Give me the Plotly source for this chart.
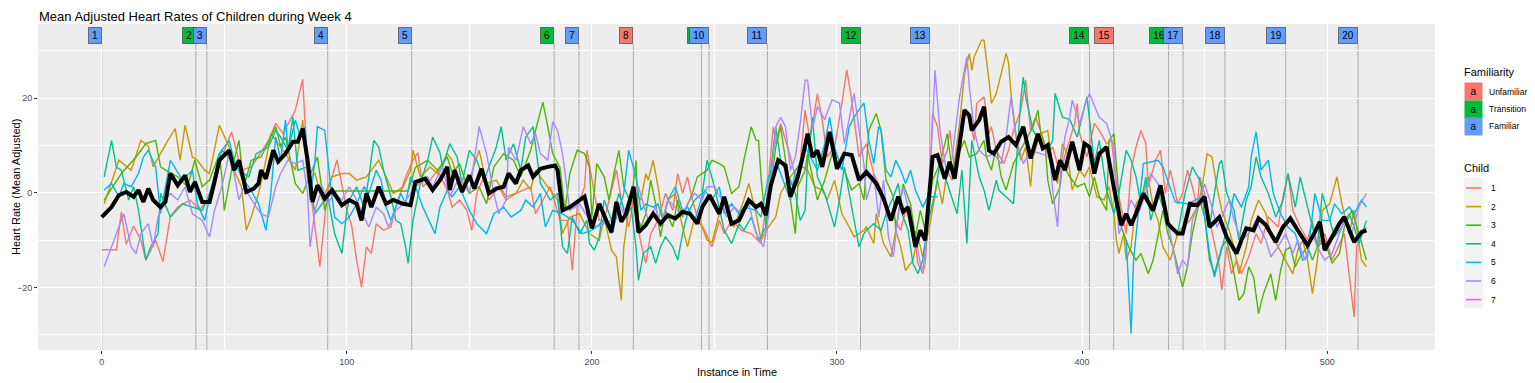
import plotly.graph_objects as go

# ---------------- data ----------------
c1_t = [0,3,6,8,10,13,16,18,22,25,28,31,36,40,44,49,53,57,61,68,71,74,79,82,84,86,89,92,96,100,
        102,104,106,108,110,112,115,118,120,124,127,129,131,134,137,141,143,146,149,151,153,156,158,162,165,169,175,177,180,183,187,190,192,194,197,198,201,203,
        205,207,210,212,215,217,220,222,224,227,230,233,235,237,239,241,243,246,249,252,254,257,261,265,269,271,273,274,275,277,279,281,284,287,289,292,294,296,299,302,304,306,
        309,312,315,318,320,323,326,328,331,333,335,336,337,339,341,343,345,346,348,350,352,354,356,357,360,362,363,365,368,370,372,375,377,379,381,383,386,388,391,394,397,398,399,402,405,407,410,412,
        414,416,418,420,422,424,426,427,430,432,434,436,439,441,443,445,447,448,450,452,454,456,457,459,461,463,465,468,471,473,476,480,482,484,486,489,492,494,496,499,502,505,507,511,512,514,516]
c1_v = [-12,-12,-12,-4,-10.9,-7,-10,-14.2,-10,-14.5,-5,-3,-1.5,-3.5,-1,7.6,12.9,4.8,5.5,11,14.7,12.5,17.5,24,4.8,-3,-15.6,-0.1,7,-3.7,
        -7,-14.2,-19.9,-11.4,-12.8,-6.5,-7.9,-7.2,-3,3.4,6.9,8.5,1.3,2.7,4.8,0.6,-3,-1.5,-3.7,-7.9,-0.1,3.4,-1.5,1.3,-1.5,-0.1,1.3,-4.4,-1.5,1.3,-5.8,-5.8,-16.4,-3,1.3,9,-0.1,-5.8,
        -5.8,-1.5,4.8,-1.5,-7.2,-1.5,-10.7,-14.9,-8.6,-5.8,-0.1,-3.7,4.1,-0.1,3.4,-1.5,-5.1,-7.9,-11.4,-5.8,-8.6,-5.8,-7.9,-8.6,-10.7,-3,8.3,14,10.4,14.7,11.1,7.6,1.3,17.5,11.1,21,15.4,7.6,9.7,18.9,26,19.6,
        7.6,10.4,4.1,0.6,-3.7,-5.1,-7.9,-3.7,-6.5,-14.9,-17.1,-14.9,-6.5,16.8,14,6.2,9,13.2,4.8,9,16.8,15.5,11.1,18.9,20.3,12.5,14,9,6.2,9,13.2,17.5,23.8,13.2,16,13.2,8.3,9.7,4.1,9.7,14.7,18.9,12.5,7.6,14.7,13.2,10.4,11.1,
        2,-3.7,-8.6,4.8,9.7,13.2,10.4,1.3,6.9,9,-0.1,4.8,-2.3,-0.1,4.8,1.3,-3,3.4,-0.1,-5.8,-10.7,-15.6,-20.5,-11.4,-17.1,-14.2,-17.1,-13.5,-8.6,-10.7,-5.1,-7.2,-0.8,4.1,-3.7,-7.2,-10,-5.8,-11.4,-8.6,-14.2,-10.7,-8.6,-26.2,-11.4,-8.6,-7.2]

c2_t = [1,7,12,16,19,21,27,30,32,34,37,39,42,44,48,50,52,54,57,59,61,64,67,69,72,75,79,82,84,87,90,94,98,
        101,104,108,113,116,119,123,126,127,130,134,137,141,143,146,150,154,157,161,165,169,172,175,177,180,183,186,188,191,195,199,203,
        205,208,210,212,213,215,218,220,222,223,225,227,229,231,234,237,239,242,245,247,249,252,254,256,258,262,264,267,269,272,275,277,280,283,286,288,291,294,296,299,302,305,307,311,
        312,315,316,319,322,324,326,328,331,333,335,338,341,343,345,347,350,352,354,355,356,359,360,362,363,365,367,369,370,371,373,375,377,379,380,383,386,388,390,392,394,396,399,401,403,406,409,411,413,
        414,415,417,418,420,422,425,427,429,431,433,436,439,441,444,447,449,451,453,455,457,460,462,464,467,469,472,475,477,480,483,486,488,490,492,494,496,498,501,504,506,509,511,514,516]
c2_v = [-2.3,6.9,4.8,11.1,9.9,5.5,11.1,13.6,6.9,14.3,7.6,6.9,4.8,4.1,14.3,11.8,9.7,4.8,1.3,-7.9,-5.1,-0.1,6.9,12.5,10.4,8.3,4.8,15.4,2.7,4.1,-1.5,3.4,4.1,
        4.1,2.7,3.4,6.9,3.4,-0.1,1.3,4.8,9,3.4,5.5,4.1,8.3,6.9,1.3,2.7,9,2,2.7,-0.8,-0.1,2.7,0.6,4.8,2.7,0.6,-1.5,-8.6,-5.1,-4.4,-8.6,-10,
        -5.1,-12.1,-13.5,-22.7,-11.4,-3.7,-0.1,-1.5,4.1,2.7,6.9,1.3,-5.8,-1.5,-0.1,-7.2,-11.4,-5.1,-7.2,-10,-10.4,-4.4,-1.5,-5.8,-7.2,-1.5,2,-4.4,-10,-7.2,-5.1,-0.1,2.7,4.8,5.5,4.8,1.3,0.6,-1.5,2.7,-4.4,-7.2,-9.3,-7.9,
        -7.2,-10.7,-4.4,-10.7,-13.5,-7.9,-11.4,-16.4,-14.2,-9.3,-13.5,-6.5,2.7,-2.3,4.8,2.7,14.7,25,29.5,25.9,28.8,32.3,32.3,23.8,18.9,21,25.2,29.5,27.5,21,12.5,6.9,9.7,1.3,7.6,12.5,13.2,4.8,2,10.4,8.3,0.6,4.8,3.4,5.5,-0.8,-1.5,1.3,-4.4,
        -10,-12.8,-8.6,-14.2,-11.4,-2.3,-0.1,3.4,-3,-5.8,-11.4,-14.2,-8.6,-7.2,-5.8,-3,1.3,8.3,7.6,1.3,-3.7,-7.9,-11.4,-17.1,-11.4,-5.8,-1.5,-4.4,-8.6,-11.4,-14.2,-17.1,-12.1,-10,-14.2,-21.3,-14.2,-3.7,-2.3,3.4,-2.3,-8.6,-3.7,-14.2,-15.6]

c3_t = [1,8,14,18,22,24,26,31,35,38,41,44,48,49,50,53,56,58,61,65,71,73,75,79,82,88,91,93,100,
        110,120,125,128,133,137,141,143,146,150,154,157,160,164,168,171,175,177,180,182,184,187,189,191,194,197,199,200,202,205,207,
        209,211,213,216,218,219,220,222,224,226,228,230,233,235,237,241,243,245,247,249,252,254,257,260,262,265,267,268,269,271,273,275,277,279,281,283,284,287,288,290,292,295,298,301,303,306,309,311,
        313,316,318,320,323,324,327,330,332,334,336,339,342,345,347,349,352,354,357,360,361,363,365,367,369,372,375,377,380,382,383,385,386,388,391,392,395,398,401,403,405,407,410,411,413,
        416,419,422,424,427,429,431,433,435,437,441,443,445,448,450,452,454,457,459,461,464,466,468,470,472,474,477,479,481,483,485,487,489,492,494,496,499,502,505,507,510,513,516]
c3_v = [-1.5,4.1,7.6,10.4,11.1,5.5,4.8,3.4,1.3,6.9,1.3,2.7,8.3,3.4,-3.7,4.8,11.1,1.3,6.9,7.6,14,9.9,11.8,2,-0.1,7.6,-3.7,0.4,0.4,
        0.4,0.4,0.4,5.4,6.9,4.8,7.6,4.1,6.2,-0.1,1.3,-2.3,5.5,8.3,6.9,3.4,9,13.2,19.2,14,8.3,5.4,-3.7,4.1,9,8.3,5.5,-5.1,6.2,3.4,-1.5,
        4.1,9,1.3,-2.3,6.9,-5.8,-7.2,-4.4,2.7,-2.3,-9.3,-3.7,-7.2,-1.5,-5.1,-0.1,3.4,4.1,4.8,6.9,6.2,5.5,-0.1,1.3,6.9,14,11.1,11.1,3.4,-7.2,1.3,9.7,14,6.9,-1.5,-8.6,1.3,4.8,8.3,3.4,-1.5,2.7,8.3,5.5,4.8,0.6,2,-1.5,
        13.2,16.8,13.2,2.7,-0.8,-7.9,1.9,-2.3,-9.3,-3.7,-7.9,2.7,6.2,12.5,4.8,7.6,11.1,7.6,8.3,11.1,7.6,4.8,9.7,3.4,0.6,6.2,9,11.1,14,17.5,13.2,9.7,2.7,-2.3,1.3,6.2,3.4,1.3,2,-0.8,3.4,-0.8,-3.7,11.1,12.5,
        -7.2,-11.4,-14.2,-12.8,-17.1,-14.2,-8.6,-3.7,-8.6,-11.4,-19.9,-15.6,-8.6,-1.5,-5.1,-14.2,-17.1,-11.4,-10,-14.2,-22.7,-21.3,-15.6,-17.8,-25.5,-21.3,-17.1,-22.7,-16.4,-12.1,-11.4,-15.6,-13.5,-11.4,-14.2,-11.4,-10,-14.9,-12.8,-7.2,-3.7,-8.6,-14.2]

c4_t = [1,4,6,8,11,13,15,18,20,23,24,28,33,37,41,44,49,53,56,60,63,68,71,73,76,78,80,84,87,91,92,95,98,100,
        101,104,107,109,111,113,115,118,120,122,124,125,127,130,133,135,138,139,142,145,147,150,153,156,158,161,163,165,168,171,173,176,179,183,186,188,190,192,195,198,199,201,203,
        205,208,211,214,216,218,219,221,224,226,228,230,233,235,237,239,242,245,247,250,252,254,257,260,262,265,268,271,273,275,277,281,283,285,287,288,290,292,295,298,299,301,303,306,309,311,
        312,315,318,320,323,325,327,329,331,333,335,337,340,342,345,349,351,353,355,358,360,362,365,366,369,372,375,376,377,380,384,386,388,389,392,395,398,402,405,407,410,
        413,415,418,420,422,424,426,428,431,433,436,439,442,445,448,450,452,454,456,457,459,462,464,467,469,471,473,476,479,482,484,487,489,492,494,496,498,501,503,506,509,511,513,516]
c4_v = [3.4,11.1,5.4,4.8,-1.5,1.3,-3.7,-14.2,-11.4,-8.6,-0.1,-5.1,-2.3,-3,-3.7,-0.1,9,6.9,4.8,3.4,8.3,9.7,13.2,11.8,9,16,4.8,5.5,-4.4,-1.5,-0.1,-8.6,-12.8,-3.7,
        -1.5,1.3,-3,3.4,11.1,9.7,4.8,-0.8,-5.8,-6.5,-11.4,-14.9,-5.8,2,6.9,11.8,8.5,5.5,10.4,7.6,2,9,6.9,2.7,5.5,9.7,14,6.9,10.4,4.8,11.8,14,2,-1.5,-0.1,-11.4,-12.8,-5.1,-8.6,-5.8,-10.7,-12.1,-9.3,
        -1.5,-5.8,-0.1,-5.1,-3,-11.4,-18.5,-12.8,-11.4,-14.9,-11.4,-9.3,-11.4,-14.2,-8.6,-4.4,-1.5,-0.1,6.9,1.3,-3,-7.9,-10.7,-6.5,-7.9,-5.1,-10,-7.2,4.8,14,6.9,2.7,-0.1,-5.8,-3.7,6.9,16,3.4,-0.1,-5.8,-7.2,-1.5,5.5,-3,-11.4,-8.6,
        -7.9,-6.5,-7.9,-4.4,-0.8,2,-5.1,-7.9,-14.9,-17.1,-14.2,-6.5,-0.1,6.2,2,-4.4,4.8,-10.7,11.1,3.4,0.6,-3.7,2.7,0.6,-0.8,-2.3,19.6,24.5,20.3,13.2,9.7,9,11.1,21,16,15.5,11.8,20.3,6.2,11.1,0.6,
        -4.4,-0.1,9,6.9,3.4,-2.3,3.4,-5.8,-0.1,-3,-7.2,-8.6,-0.1,5.5,2.7,-2.3,-7.2,-0.1,6.2,6.9,-0.1,-3.7,-10,-1.5,1.3,7.6,3.4,-0.1,-5.1,-1.5,4.1,-3,3.4,-3,-7.2,-11.4,-0.1,-5.8,-9.3,-7.2,-4.4,-7.2,-10.7,-5.8]

c5_t = [1,4,7,9,12,15,17,19,22,24,28,33,37,39,42,45,48,52,54,57,60,64,67,69,71,73,75,76,79,81,83,85,87,88,91,93,95,98,
        101,104,107,109,112,114,116,118,122,124,126,128,131,136,138,141,143,146,150,153,157,160,164,167,171,173,176,179,181,184,188,192,196,200,
        205,208,211,213,215,218,220,222,225,227,229,231,234,237,239,242,244,246,249,252,254,257,260,262,267,269,272,276,279,281,283,285,287,290,292,295,297,299,302,305,307,310,311,
        313,315,317,318,320,322,324,326,328,330,332,335,337,341,
        380,
        418,420,421,425,431,433,438,443,449,452,454,457,460,462,465,468,469,471,473,476,478,481,484,487,490,492,495,498,501,503,506,509,511,514,516]
c5_v = [0.6,2,-0.8,2,1.3,4.1,7.6,9,5.5,-4.4,6.9,2.7,4.8,-2.3,-5.8,1.3,8.3,11.1,6.9,3.4,1.3,-2.3,-7.9,-0.1,11.8,6.9,15.4,9,15.4,11.8,14,-1.5,6.9,14,13.2,3.4,-5.1,-6.5,
        -5.1,-2.3,1.3,-0.1,4.8,2.7,-3,-5.8,-0.1,-2.3,3.4,1.3,-3,-8.6,-3,0.6,-0.8,1.3,-3.7,-6.5,-8.6,-4.4,-3,-5.1,-3.7,-1.5,-3,-0.1,-7.2,-3.7,-4.4,-5.8,-8.6,-7.9,
        -5.8,-8.6,-3.7,-0.1,9,3.4,-3.7,-2.3,-3,-2.3,-5.8,-1.5,1.3,-3.7,-3,-5.8,-2.3,0.6,-1.5,1.3,-4.4,-2.3,-4.4,-3,-3.7,-5.1,3.4,5.5,1.3,-1.5,4.8,6.2,9.7,6.9,4.8,10.4,16,9.7,4.8,14,16,18.3,19,
        11.1,6.2,14,13.2,4.8,3.4,6.9,4.8,2,4.8,0.6,-3,-0.8,-0.8,
        None,
        -10,-29.7,-14.2,6.2,6.9,5.5,-1.9,-2.3,-0.8,-12.8,-17.8,-12.1,-5.8,-0.1,-3,1.3,7.6,12.9,4.8,6.9,-0.1,-4.4,-7.2,-8.6,-14.2,-13.5,-0.1,-5.8,-5.8,-2.3,-4.4,-3,-4.4,-1.5,-3]

c6_t = [1,4,7,9,12,14,16,19,21,23,26,28,31,34,37,41,44,46,49,52,54,56,58,63,65,68,71,73,76,79,82,84,85,87,90,92,95,98,
        101,104,107,109,112,115,117,120,123,128,133,135,139,142,146,150,154,157,160,162,165,166,169,172,175,177,179,182,184,186,188,191,195,199,202,
        208,211,213,216,219,221,223,226,228,231,234,237,239,242,245,247,250,253,255,258,261,264,267,270,272,275,277,279,281,283,285,287,288,290,292,295,298,301,303,307,309,
        311,312,315,317,319,321,323,325,327,330,332,334,335,337,339,340,342,345,347,350,353,354,356,358,361,364,367,369,371,373,376,379,383,387,388,390,391,393,395,396,399,401,403,405,407,410,413,
        415,418,420,423,426,428,431,434,437,439,441,443,445,448,450,453,455,457,460,462,465,468,471,475,477,480,483,486,488,491,494,496,499,502,505,507,510,513,516]
c6_v = [-15.6,-11.4,-7.2,-4.4,-11.4,-12.8,-8.6,-6.5,-11.4,-5.1,-1.5,-0.1,-1.5,1.3,-4.4,-5.8,-9.3,-3.7,1.3,8.3,4.1,-1.5,1.3,-3,-4.4,-5.1,1.3,4.1,6.9,6.2,6.9,-0.1,-11.4,-3.7,1.3,-2.3,-0.1,-1.5,
        1.3,-1.5,-5.1,-7.2,-3,-4.4,-7.2,-3.7,-2.3,1.3,3.4,1.3,5.5,-0.8,3.4,-0.1,14,8.3,-0.1,-4.4,-1.5,9.7,6.9,14,10.4,12.5,8.3,6.9,15,13.2,8.3,-3.7,-2.3,-5.8,-7.2,
        -5.8,-2.3,-4.4,-0.1,1.3,-2.3,-5.8,-3,-7.2,-1.5,-3,-5.1,-2.3,-0.1,-1.5,1.3,1.3,-1.5,-5.1,-3,-4.4,-2.3,-8.6,-11.4,-5.1,14,16,14,4.8,7.6,14.7,23.8,23.8,13.5,18.3,15.5,19.7,19,10.4,21,14,
        6,-1.5,4.1,-5.1,2.7,-9.3,-13.5,-4.4,1.3,-5.1,-9.3,-14.9,-16.4,-7.9,16.8,25.9,13.2,3.4,7.6,20.3,28.8,22.5,13.2,9,7.6,8.3,6.2,11.8,20.3,11.8,6.2,9,8.3,7.6,0.6,-7.2,2.7,11.8,16,19.6,14.7,18.3,21,18.3,16,14.7,9.7,
        -8.6,-5.1,-1.5,-4.4,-0.1,4.1,1.9,-3.7,-11.4,-17.1,-14.2,-15.6,-5.8,-1.5,1.9,-3,-7.2,-5.1,-1.5,-5.8,-10,-8.6,-5.8,-10,-13.5,-11.4,-8.6,-12.8,-10,-14.2,-8.6,-11.4,-14.2,-12.8,-8.6,-5.8,-8.6,-2.9,-0.1]

c7_t = [None]
c7_v = [None]

mean_t = [0,4,7,10,13,15,17,19,21,24,26,28,31,34,36,38,41,44,46,48,52,54,56,59,62,64,65,67,70,72,75,78,80,82,84,86,88,91,94,98,
          101,104,106,108,110,113,116,119,123,126,128,132,135,138,141,142,144,147,150,152,155,158,161,164,166,169,171,174,176,179,182,185,186,188,191,194,197,200,203,
          206,208,210,212,214,217,219,222,225,228,231,234,237,240,243,245,248,252,254,257,260,264,267,269,271,273,276,279,281,284,286,288,290,292,294,297,300,303,306,309,
          312,316,319,322,325,327,329,332,334,336,339,341,344,346,348,350,352,354,355,358,360,362,364,367,370,373,376,379,382,384,386,389,391,393,396,399,401,403,405,407,410,413,
          416,418,420,422,425,429,432,435,439,441,444,447,450,452,456,459,463,465,467,470,472,475,479,482,485,488,492,495,497,499,502,505,507,511,514,516]
mean_v = [-5.1,-3,-0.5,0.2,-0.8,0.6,-1.9,0.9,-1.5,-3,-1.9,4.1,1.6,3.7,0.2,2.3,-1.9,-1.9,2.3,6.9,9,4.8,6.9,0.2,0.9,2,4.8,3,9,6.6,8.3,10.8,10.8,13.6,6.9,-1.9,1.6,-1.2,0.6,-2.6,
          -1.5,-2.3,-5.8,-0.1,-3,1.3,-2.3,-1.5,-2.3,-2.6,2.3,3,0.6,2.7,5.5,0.6,4.8,0.2,3.7,0.9,5.1,-0.1,0.9,1.3,4.1,2,4.8,5.8,3.4,5.1,5.5,5.8,4.8,-3.7,-3,-1.9,-0.8,-7.5,-2.3,
          -6,-8.3,-1.9,-6.1,-4.4,1.3,-8.3,-6.8,-4.4,-6.5,-4.7,-5.4,-4,-4.4,-6.5,-3,-0.5,-4.4,-0.8,-6.5,-5.8,-1.5,-3,-2.3,-4.7,1.6,6.9,5.8,-0.8,3.4,7.6,12.5,7.6,9,5.5,12.9,5.1,8.3,8,2.7,
          4.4,2,-1.2,-5.8,-0.8,-4,-3,-11.4,-7.9,-10,7.6,8,3,6.6,3,10.8,17.5,16.4,13.2,15.4,18.2,9,8.3,10.8,11.8,10.1,14,7.3,12.5,9.4,10.1,2.7,6.9,4.8,10.8,4.8,10.4,9.7,4.1,8.3,9.7,1,
          -6.8,-4.4,-6.8,-4.4,-0.1,-3.7,1.6,-6.5,-8.6,-8.6,-2.3,-2.6,-0.8,-7.2,-5.1,-9.3,-12.8,-10,-7.5,-7.9,-5.4,-6.8,-10.4,-7.2,-5.4,-7.9,-11.1,-8.3,-6.1,-12.1,-9.3,-6.5,-5.1,-10.4,-8.3,-7.9]

child_names = ["1", "2", "3", "4", "5", "6", "7"]
child_colors = ["#F8766D", "#C49A00", "#53B400", "#00C094", "#00B6EB", "#A58AFF", "#FB61D7"]
child_series = [(c1_t, c1_v), (c2_t, c2_v), (c3_t, c3_v), (c4_t, c4_v), (c5_t, c5_v), (c6_t, c6_v), (c7_t, c7_v)]

event_labels = ["1","2","3","4","5","6","7","8","9","10","11","12","13","14","15","16","17","18","19","20"]
event_x = [0, 38.4, 42.9, 92.2, 126.5, 184.6, 194.7, 216.9, 244.7, 247.8, 271.6, 309.6, 337.8, 403, 412.9, 435.3, 441.2, 458.3, 483.1, 512.6]
event_fam = ["Familiar","Transition","Familiar","Familiar","Familiar","Transition","Familiar","Unfamiliar","Transition","Familiar",
             "Familiar","Transition","Familiar","Transition","Unfamiliar","Transition","Familiar","Familiar","Familiar","Familiar"]
fam_names = ["Unfamiliar", "Transition", "Familiar"]
fam_colors = {"Unfamiliar": "#F8766D", "Transition": "#00BA38", "Familiar": "#619CFF"}

# ---------------- layout geometry (screen px; the page body adds an 8px offset) ----------------
OFF = 8
W, H = 1535 - OFF, 383 - OFF
PANEL_L, PANEL_R, PANEL_T, PANEL_B = 38, 1435, 24, 350          # screen pixels
ML, MT = PANEL_L - OFF, PANEL_T - OFF
MR, MB = W - (PANEL_R - OFF), H - (PANEL_B - OFF)
PW, PH = W - ML - MR, H - MT - MB

def px_x(px):
    return (px - OFF - ML) / PW

def px_y(py):
    return (H - MB - (py - OFF)) / PH

FONT = "Liberation Sans, Arial, sans-serif"

fig = go.Figure()

for name, col, (tt, vv) in zip(child_names, child_colors, child_series):
    fig.add_trace(go.Scatter(x=tt, y=vv, mode="lines", name=name, showlegend=False,
                             line=dict(color=col, width=1.4), connectgaps=False))

fig.add_trace(go.Scatter(x=mean_t, y=mean_v, mode="lines", showlegend=False,
                         line=dict(color="black", width=4)))

shapes = []
for ex in event_x:
    shapes.append(dict(type="line", xref="x", yref="paper", x0=ex, x1=ex, y0=0, y1=0.94,
                       line=dict(color="rgba(150,150,150,0.75)", width=1), layer="between"))

annotations = []
for lab, ex, fam in zip(event_labels, event_x, event_fam):
    annotations.append(dict(x=ex, y=px_y(35), xref="x", yref="paper", text=lab, showarrow=False,
                            xanchor="right", yanchor="middle",
                            font=dict(family=FONT, size=10, color="black"),
                            bgcolor=fam_colors[fam], bordercolor="rgba(70,70,70,0.7)", borderwidth=1,
                            borderpad=2, width=8 if len(lab) == 1 else 14, height=11))

# axis titles as annotations (exact placement)
annotations.append(dict(x=px_x(737), y=px_y(372), xref="paper", yref="paper", text="Instance in Time",
                        showarrow=False, xanchor="center", yanchor="middle",
                        font=dict(family=FONT, size=11, color="black")))
annotations.append(dict(x=px_x(16), y=px_y(187), xref="paper", yref="paper", text="Heart Rate (Mean Adjusted)",
                        showarrow=False, xanchor="center", yanchor="middle", textangle=-90,
                        font=dict(family=FONT, size=11, color="black")))
# plot title as annotation
annotations.append(dict(x=px_x(38), y=px_y(17), xref="paper", yref="paper",
                        text="Mean Adjusted Heart Rates of Children during Week 4",
                        showarrow=False, xanchor="left", yanchor="middle", borderpad=0,
                        font=dict(family=FONT, size=13, color="black")))

# Familiarity legend (drawn manually)
annotations.append(dict(x=px_x(1462), y=px_y(72), xref="paper", yref="paper", text="Familiarity",
                        showarrow=False, xanchor="left", yanchor="middle",
                        font=dict(family=FONT, size=11, color="black")))
for i, fname in enumerate(fam_names):
    cy = 91.5 + 17.5 * i
    annotations.append(dict(x=px_x(1464), y=px_y(cy), xref="paper", yref="paper", text="a",
                            showarrow=False, xanchor="left", yanchor="middle",
                            font=dict(family=FONT, size=10, color="black"),
                            bgcolor=fam_colors[fname], borderpad=0, width=17, height=17))
    annotations.append(dict(x=px_x(1487), y=px_y(cy), xref="paper", yref="paper", text=fname,
                            showarrow=False, xanchor="left", yanchor="middle",
                            font=dict(family=FONT, size=8.5, color="black")))

# Child legend (drawn manually)
annotations.append(dict(x=px_x(1462), y=px_y(168), xref="paper", yref="paper", text="Child",
                        showarrow=False, xanchor="left", yanchor="middle",
                        font=dict(family=FONT, size=11, color="black")))
shapes.append(dict(type="rect", xref="paper", yref="paper", x0=px_x(1464), x1=px_x(1483),
                   y0=px_y(308), y1=px_y(178), fillcolor="#F2F2F2", line=dict(width=0), layer="above"))
for i, (name, col) in enumerate(zip(child_names, child_colors)):
    cy = 188 + 18.6 * i
    shapes.append(dict(type="line", xref="paper", yref="paper", x0=px_x(1466), x1=px_x(1481),
                       y0=px_y(cy), y1=px_y(cy), line=dict(color=col, width=1.6), layer="above"))
    annotations.append(dict(x=px_x(1489), y=px_y(cy), xref="paper", yref="paper", text=name,
                            showarrow=False, xanchor="left", yanchor="middle",
                            font=dict(family=FONT, size=8.5, color="black")))

fig.update_layout(
    width=W, height=H,
    margin=dict(l=ML, r=MR, t=MT, b=MB, autoexpand=False),
    paper_bgcolor="white", plot_bgcolor="#EDEDED",
    showlegend=False,
    xaxis=dict(range=[-26, 544], tickvals=[0, 100, 200, 300, 400, 500], showgrid=True,
               gridcolor="white", gridwidth=1.1, zeroline=False, ticks="outside", ticklen=3,
               tickcolor="#333333", tickfont=dict(family=FONT, size=9, color="#4D4D4D"),
               minor=dict(tickvals=[50, 150, 250, 350, 450], showgrid=True, gridcolor="white", gridwidth=0.5),
               showline=False, automargin=False),
    yaxis=dict(range=[-33.2, 35.7], tickvals=[-20, 0, 20], showgrid=True,
               gridcolor="white", gridwidth=1.1, zeroline=False, ticks="outside", ticklen=3,
               tickcolor="#333333", tickfont=dict(family=FONT, size=9, color="#4D4D4D"),
               minor=dict(tickvals=[-30, -10, 10, 30], showgrid=True, gridcolor="white", gridwidth=0.5),
               showline=False, automargin=False),
    shapes=shapes,
    annotations=annotations,
)

fig.write_html("out.html")
